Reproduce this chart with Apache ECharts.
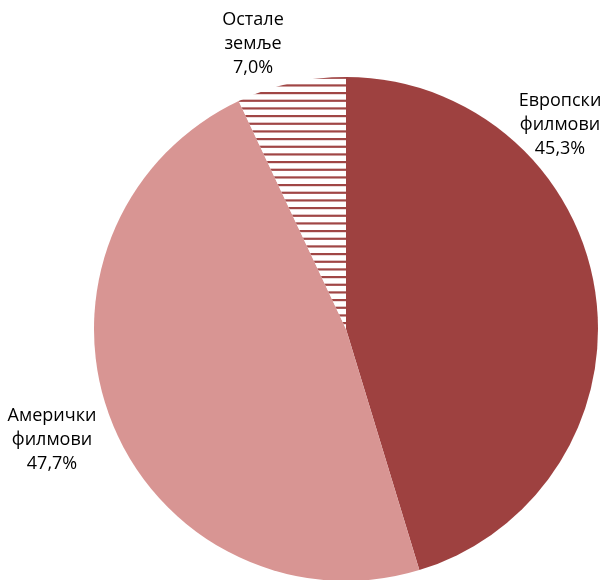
<!DOCTYPE html>
<html><head><meta charset="utf-8">
<script src="https://cdn.jsdelivr.net/npm/echarts@6/dist/echarts.min.js"></script>
<style>html,body{margin:0;padding:0;background:#fff}#c{width:614px;height:580px}</style>
</head><body><div id="c"></div>
<script>
var categories = ['Европски\nфилмови', 'Амерички\nфилмови', 'Остале\nземље'];
var values = [45.3, 47.7, 7.0];
var labelTexts = ['45,3%', '47,7%', '7,0%'];

var pc = document.createElement('canvas');
pc.width = 8; pc.height = 23;
var ctx = pc.getContext('2d');
ctx.fillStyle = '#ffffff'; ctx.fillRect(0, 0, 8, 23);
ctx.fillStyle = '#a04645';
[0, 7.667, 15.333].forEach(function (y) { ctx.fillRect(0, y, 8, 2.2); });

var colors = ['#9e4140', '#d89593', {image: pc, repeat: 'repeat'}];
var labelPos = [[560, 125], [52, 440], [253, 44]];

var chart = echarts.init(document.getElementById('c'), null, {renderer: 'canvas'});
chart.setOption({
  animation: false,
  series: [{
    type: 'pie',
    center: [346, 329],
    radius: 252,
    startAngle: 90,
    clockwise: true,
    data: categories.map(function (c, i) {
      return {name: c, value: values[i], itemStyle: {color: colors[i]}};
    }),
    itemStyle: {borderWidth: 0},
    label: {
      show: true,
      position: 'inside',
      overflow: 'none',
      formatter: function (p) { return p.name + '\n' + labelTexts[p.dataIndex]; },
      fontFamily: 'Open Sans',
      fontSize: 18,
      lineHeight: 24,
      color: '#000',
      textBorderWidth: 0,
      align: 'center'
    },
    labelLine: {show: false},
    labelLayout: function (p) {
      var pos = labelPos[p.dataIndex];
      return {x: pos[0], y: pos[1], align: 'center', verticalAlign: 'middle'};
    }
  }]
});
</script></body></html>
